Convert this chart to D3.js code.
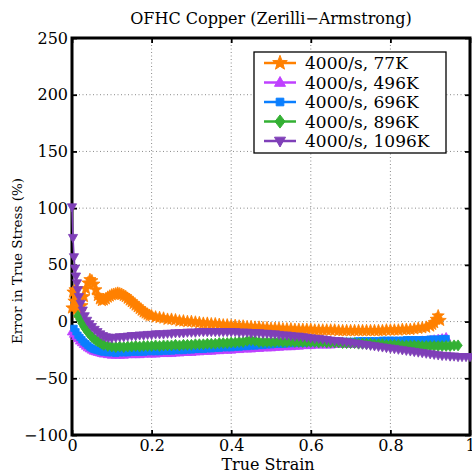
<!DOCTYPE html>
<html>
<head>
<meta charset="utf-8">
<script src="https://cdn.jsdelivr.net/npm/d3@7"></script>
<style>
  html, body { margin: 0; padding: 0; background: #fff; }
  svg { display: block; }
  text { font-family: "DejaVu Serif", serif; fill: #000; }
</style>
</head>
<body>
<svg id="chart" width="472" height="475"></svg>
<script>
// Error in true stress for OFHC copper, Zerilli-Armstrong model, strain rate 4000/s
const chartTitle = "OFHC Copper (Zerilli\u2212Armstrong)";
const xLabel = "True Strain";
const yLabel = "Error in True Stress (%)";

const xTicks = [0, 0.2, 0.4, 0.6, 0.8, 1];
const xTickLabels = ["0", "0.2", "0.4", "0.6", "0.8", "1"];
const yTicks = [-100, -50, 0, 50, 100, 150, 200, 250];
const yTickLabels = ["\u2212100", "\u221250", "0", "50", "100", "150", "200", "250"];

const seriesNames = ["4000/s, 77K", "4000/s, 496K", "4000/s, 696K", "4000/s, 896K", "4000/s, 1096K"];
const seriesColors = ["#ff8000", "#bf40ff", "#0a7fff", "#33b033", "#7f3fb8"];
const seriesMarkers = ["star", "triUp", "square", "diamond", "triDown"];

// [true strain, error %]
const err77K = [
  [0,12],[0.0025,26],[0.005,18],[0.0075,28],[0.01,17],[0.0125,11],[0.015,8],[0.02,9],[0.025,14],
  [0.03,22],[0.035,29],[0.04,34],[0.045,37],[0.05,36],[0.055,33],[0.06,28],[0.065,23],[0.07,20],
  [0.075,18.5],[0.08,19],[0.085,20],[0.09,21.5],[0.095,22.5],[0.10,23.5],[0.105,24],[0.11,24.5],
  [0.115,25],[0.12,24.5],[0.125,24],[0.13,23],[0.135,22],[0.14,20.5],[0.145,19],[0.15,17.5],
  [0.155,16],[0.16,14.5],[0.165,13],[0.17,11.5],[0.175,10],[0.18,8.5],[0.185,7.5],[0.19,6.5],
  [0.195,5.5],[0.20,5],[0.21,4],[0.22,3.5],[0.23,3],[0.24,2],[0.25,2],[0.26,1.5],[0.27,0.5],
  [0.28,0.5],[0.29,0],[0.30,0],[0.31,-0.5],[0.32,-1],[0.33,-1.5],[0.34,-1.5],[0.35,-2],[0.36,-2],
  [0.37,-2.5],[0.38,-3],[0.39,-3],[0.40,-3.5],[0.41,-3.5],[0.42,-4],[0.43,-4],[0.44,-4.5],
  [0.45,-4.5],[0.46,-5],[0.47,-5],[0.48,-5.5],[0.49,-5.5],[0.50,-6],[0.51,-6],[0.52,-6],
  [0.53,-6.5],[0.54,-6.5],[0.55,-6.5],[0.56,-7],[0.57,-7],[0.58,-7],[0.59,-7],[0.60,-7],
  [0.61,-7.5],[0.62,-7.5],[0.63,-7.5],[0.64,-7.5],[0.65,-7.5],[0.66,-7.5],[0.67,-8],[0.68,-8],
  [0.69,-8],[0.70,-8],[0.71,-8],[0.72,-8],[0.73,-8],[0.74,-8],[0.75,-8],[0.76,-8],[0.77,-8],
  [0.78,-8],[0.79,-7.5],[0.80,-7.5],[0.81,-7.5],[0.82,-7.5],[0.83,-7],[0.84,-7],[0.85,-7],
  [0.86,-6.5],[0.87,-6],[0.88,-5.5],[0.89,-5],[0.90,-4],[0.905,-2.5],[0.91,-1],[0.915,2],
  [0.92,5],[0.925,1]
];

const err496K = [
  [0,-9],[0.005,-11],[0.01,-13],[0.015,-15],[0.02,-17],[0.025,-18.5],[0.03,-20],[0.035,-21.5],
  [0.04,-23],[0.045,-24],[0.05,-25],[0.055,-26],[0.06,-26.5],[0.065,-27],[0.07,-27.5],
  [0.075,-28],[0.08,-28.5],[0.09,-29],[0.10,-29.5],[0.11,-29.5],[0.12,-29.5],[0.13,-29.5],
  [0.14,-29],[0.15,-29],[0.16,-29],[0.17,-29],[0.18,-28.5],[0.19,-28.5],[0.20,-28.5],[0.21,-28.5],
  [0.22,-28],[0.23,-28],[0.24,-28],[0.25,-28],[0.26,-27.5],[0.27,-27.5],[0.28,-27],[0.29,-27],
  [0.30,-27],[0.31,-26.5],[0.32,-26.5],[0.33,-26],[0.34,-26],[0.35,-26],[0.36,-25.5],[0.37,-25.5],
  [0.38,-25],[0.39,-25],[0.40,-25],[0.41,-24.5],[0.42,-24.5],[0.43,-24],[0.44,-24],[0.45,-24],
  [0.46,-23.5],[0.47,-23.5],[0.48,-23],[0.49,-23],[0.50,-23],[0.51,-22.5],[0.52,-22.5],[0.53,-22],
  [0.54,-22],[0.55,-22],[0.56,-21.5],[0.57,-21.5],[0.58,-21],[0.59,-21],[0.60,-21],[0.61,-20.5],
  [0.62,-20.5],[0.63,-20.5],[0.64,-20.5],[0.65,-20.5],[0.66,-20],[0.67,-20],[0.68,-20],[0.69,-20],
  [0.70,-20],[0.71,-19.5],[0.72,-19.5],[0.73,-19.5],[0.74,-19.5],[0.75,-19.5],[0.76,-19],
  [0.77,-19],[0.78,-19],[0.79,-19],[0.80,-19],[0.81,-18.5],[0.82,-18.5],[0.83,-18.5],[0.84,-18],
  [0.85,-18],[0.86,-17.5],[0.87,-17.5],[0.88,-17],[0.89,-17],[0.90,-16.5],[0.91,-16],[0.92,-15.5],
  [0.93,-15],[0.94,-14]
];

const err696K = [
  [0.005,-6],[0.01,-9],[0.015,-12],[0.02,-14],[0.025,-16],[0.03,-18],[0.035,-19.5],[0.04,-21],
  [0.045,-22.5],[0.05,-23.5],[0.055,-24.5],[0.06,-25],[0.065,-25.5],[0.07,-26],[0.075,-26.5],
  [0.08,-27],[0.09,-27.5],[0.10,-27.5],[0.11,-28],[0.12,-27.5],[0.13,-27.5],[0.14,-27.5],
  [0.15,-27],[0.16,-27],[0.17,-27],[0.18,-27],[0.19,-26.5],[0.20,-26.5],[0.21,-26.5],[0.22,-26.5],
  [0.23,-26],[0.24,-26],[0.25,-26],[0.26,-25.5],[0.27,-25.5],[0.28,-25.5],[0.29,-25],[0.30,-25],
  [0.31,-24.5],[0.32,-24.5],[0.33,-24.5],[0.34,-24],[0.35,-24],[0.36,-23.5],[0.37,-23.5],
  [0.38,-23],[0.39,-23],[0.40,-23],[0.41,-22.5],[0.42,-22.5],[0.43,-22],[0.44,-22],[0.45,-21.5],
  [0.46,-21.5],[0.47,-21],[0.48,-21],[0.49,-20.5],[0.50,-20.5],[0.51,-20],[0.52,-20],[0.53,-20],
  [0.54,-19.5],[0.55,-19.5],[0.56,-19],[0.57,-19],[0.58,-19],[0.59,-18.5],[0.60,-18.5],
  [0.61,-18.5],[0.62,-18],[0.63,-18],[0.64,-18],[0.65,-17.5],[0.66,-17.5],[0.67,-17.5],
  [0.68,-17.5],[0.69,-17.5],[0.70,-17.5],[0.71,-17.5],[0.72,-17],[0.73,-17],[0.74,-17],
  [0.75,-17],[0.76,-17],[0.77,-17],[0.78,-16.5],[0.79,-16.5],[0.80,-16.5],[0.81,-16.5],
  [0.82,-16.5],[0.83,-16.5],[0.84,-16],[0.85,-16],[0.86,-16],[0.87,-16],[0.88,-16],[0.89,-16],
  [0.90,-15.5],[0.91,-15.5],[0.92,-15.5],[0.93,-15],[0.94,-15]
];

const err896K = [
  [0.015,5],[0.02,2],[0.025,-1.5],[0.03,-4.5],[0.035,-7],[0.04,-9.5],[0.045,-11.5],[0.05,-13.5],
  [0.055,-15],[0.06,-16.5],[0.065,-17.5],[0.07,-18.5],[0.075,-19.5],[0.08,-20.5],[0.09,-21.5],
  [0.10,-22],[0.11,-22.5],[0.12,-22],[0.13,-22.5],[0.14,-22],[0.15,-22],[0.16,-21.5],[0.17,-22],
  [0.18,-21.5],[0.19,-21.5],[0.20,-21.5],[0.21,-21],[0.22,-21.5],[0.23,-21],[0.24,-21],[0.25,-21],
  [0.26,-20.5],[0.27,-21],[0.28,-20.5],[0.29,-20.5],[0.30,-20.5],[0.31,-20],[0.32,-20],[0.33,-20],
  [0.34,-19.5],[0.35,-19.5],[0.36,-19.5],[0.37,-19],[0.38,-19],[0.39,-19],[0.40,-18.5],[0.41,-18.5],
  [0.42,-18],[0.43,-18],[0.44,-17],[0.45,-16.5],[0.46,-17],[0.47,-18],[0.48,-18],[0.49,-18],
  [0.50,-18],[0.51,-18],[0.52,-17.5],[0.53,-18],[0.54,-18],[0.55,-17.5],[0.56,-18],[0.57,-18],
  [0.58,-18],[0.59,-18],[0.60,-18],[0.61,-18],[0.62,-18.5],[0.63,-18],[0.64,-18.5],[0.65,-18.5],
  [0.66,-18.5],[0.67,-18.5],[0.68,-19],[0.69,-19],[0.70,-19],[0.71,-19],[0.72,-19.5],[0.73,-19.5],
  [0.74,-19.5],[0.75,-19.5],[0.76,-20],[0.77,-20],[0.78,-20],[0.79,-20.5],[0.80,-20.5],
  [0.81,-20.5],[0.82,-20.5],[0.83,-21],[0.84,-21],[0.85,-21],[0.86,-21],[0.87,-21],[0.88,-21.5],
  [0.89,-21.5],[0.90,-21.5],[0.91,-21.5],[0.92,-21.5],[0.93,-21.5],[0.94,-21.5],[0.95,-21.5],
  [0.96,-21],[0.97,-21]
];

const err1096K = [
  [0,101],[0.0025,74],[0.005,57],[0.0075,47],[0.01,40],[0.0125,34],[0.015,28],[0.0175,22],
  [0.022,16],[0.027,10],[0.032,5],[0.038,1],[0.044,-2],[0.05,-4.5],[0.057,-7],[0.064,-9],
  [0.071,-11],[0.078,-12.5],[0.085,-13.5],[0.092,-14],[0.10,-14.5],[0.11,-14],[0.12,-13.5],
  [0.13,-13.5],[0.14,-13],[0.15,-12.5],[0.16,-12.5],[0.17,-12],[0.18,-12],[0.19,-11.5],[0.20,-11.5],
  [0.21,-11],[0.22,-11],[0.23,-11],[0.24,-10.5],[0.25,-10.5],[0.26,-10],[0.27,-10],[0.28,-10],
  [0.29,-9.5],[0.30,-9.5],[0.31,-9.5],[0.32,-9],[0.33,-9],[0.34,-9],[0.35,-9],[0.36,-9],[0.37,-9],
  [0.38,-9],[0.39,-9],[0.40,-9],[0.41,-9],[0.42,-9.5],[0.43,-9.5],[0.44,-9.5],[0.45,-10],[0.46,-10],
  [0.47,-10],[0.48,-10.5],[0.49,-10.5],[0.50,-11],[0.51,-11],[0.52,-11.5],[0.53,-12],[0.54,-12],
  [0.55,-12.5],[0.56,-13],[0.57,-13],[0.58,-13.5],[0.59,-14],[0.60,-14.5],[0.61,-15],[0.62,-15],
  [0.63,-15.5],[0.64,-16],[0.65,-16.5],[0.66,-17],[0.67,-17],[0.68,-17.5],[0.69,-18],[0.70,-18.5],
  [0.71,-19],[0.72,-19.5],[0.73,-20],[0.74,-20.5],[0.75,-21],[0.76,-21.5],[0.77,-22],[0.78,-22.5],
  [0.79,-23],[0.80,-23.5],[0.81,-24],[0.82,-24.5],[0.83,-25],[0.84,-25.5],[0.85,-26],[0.86,-26.5],
  [0.87,-27],[0.88,-27.5],[0.89,-28],[0.90,-28.5],[0.91,-29],[0.92,-29.5],[0.93,-30],[0.94,-30],
  [0.95,-30.5],[0.96,-30.5],[0.97,-31],[0.98,-31],[0.99,-31],[1.00,-31]
];

const seriesData = [err77K, err496K, err696K, err896K, err1096K];

// ---- layout ----
const svg = d3.select("#chart");
const plot = { left: 72, right: 470, top: 38, bottom: 435 };

const x = d3.scaleLinear().domain([0, 1]).range([plot.left, plot.right]);
const y = d3.scaleLinear().domain([-100, 250]).range([plot.bottom, plot.top]);

// marker shapes drawn around (0,0)
const markerPath = {
  star: (() => {
    const pts = [];
    for (let i = 0; i < 10; i++) {
      const r = i % 2 === 0 ? 6.4 : 2.7;
      const a = -Math.PI / 2 + i * Math.PI / 5;
      pts.push([r * Math.cos(a), r * Math.sin(a)]);
    }
    return "M" + pts.map(p => p.join(",")).join("L") + "Z";
  })(),
  triUp: "M0,-5L4.6,3.2L-4.6,3.2Z",
  triDown: "M0,5L4.6,-3.2L-4.6,-3.2Z",
  square: "M-3.2,-3.2L3.2,-3.2L3.2,3.2L-3.2,3.2Z",
  diamond: "M0,-5.5L4.2,0L0,5.5L-4.2,0Z"
};

// dotted grid
const grid = svg.append("g").attr("stroke", "#8a8a8a").attr("stroke-width", 1)
  .attr("stroke-dasharray", "1,2.5");
xTicks.filter(t => t > 0 && t < 1).forEach(t => {
  grid.append("line").attr("x1", x(t)).attr("x2", x(t))
    .attr("y1", plot.top).attr("y2", plot.bottom);
});
yTicks.filter(t => t > -100 && t < 250).forEach(t => {
  grid.append("line").attr("y1", y(t)).attr("y2", y(t))
    .attr("x1", plot.left).attr("x2", plot.right);
});

// axes with inward ticks on all four sides
function styleAxis(g) {
  g.select(".domain").remove();
  g.attr("font-family", null);
  g.selectAll(".tick line").attr("stroke", "#000").attr("stroke-width", 1.8);
  g.selectAll(".tick text").attr("fill", "#000");
}
svg.append("g").attr("transform", `translate(0,${plot.bottom})`)
  .call(d3.axisBottom(x).tickValues(xTicks).tickFormat((d, i) => xTickLabels[i]).tickSize(-5).tickPadding(4))
  .call(styleAxis)
  .call(g => g.selectAll(".tick text").attr("font-size", 16).attr("dy", "0.72em"));
svg.append("g").attr("transform", `translate(0,${plot.top})`)
  .call(d3.axisTop(x).tickValues(xTicks).tickFormat("").tickSize(-5))
  .call(styleAxis);
svg.append("g").attr("transform", `translate(${plot.left},0)`)
  .call(d3.axisLeft(y).tickValues(yTicks).tickFormat((d, i) => yTickLabels[i]).tickSize(-5).tickPadding(4))
  .call(styleAxis)
  .call(g => g.selectAll(".tick text").attr("font-size", 16));
svg.append("g").attr("transform", `translate(${plot.right},0)`)
  .call(d3.axisRight(y).tickValues(yTicks).tickFormat("").tickSize(-5))
  .call(styleAxis);

// frame
svg.append("rect").attr("x", plot.left).attr("y", plot.top)
  .attr("width", plot.right - plot.left).attr("height", plot.bottom - plot.top)
  .attr("fill", "none").attr("stroke", "#000").attr("stroke-width", 3);

// series: line then markers
const line = d3.line().x(d => x(d[0])).y(d => y(d[1]));
seriesData.forEach((data, i) => {
  const g = svg.append("g");
  g.append("path").datum(data).attr("d", line)
    .attr("fill", "none").attr("stroke", seriesColors[i]).attr("stroke-width", 1.6);
  g.selectAll("path.mk").data(data).join("path").attr("class", "mk")
    .attr("d", markerPath[seriesMarkers[i]])
    .attr("transform", d => `translate(${x(d[0])},${y(d[1])})`)
    .attr("fill", seriesColors[i]).attr("stroke", seriesColors[i]).attr("stroke-width", 0.8);
});

// legend
const legend = { x: 254, y: 52, w: 192, h: 101, row0: 63, rowStep: 19.5 };
const lg = svg.append("g");
lg.append("rect").attr("x", legend.x).attr("y", legend.y).attr("width", legend.w).attr("height", legend.h)
  .attr("fill", "#fff").attr("stroke", "#000").attr("stroke-width", 1.3);
seriesNames.forEach((name, i) => {
  const cy = legend.row0 + i * legend.rowStep;
  lg.append("line").attr("x1", 264).attr("x2", 296).attr("y1", cy).attr("y2", cy)
    .attr("stroke", seriesColors[i]).attr("stroke-width", 2.5);
  lg.append("path").attr("d", markerPath[seriesMarkers[i]])
    .attr("transform", `translate(280,${cy}) scale(1.2)`)
    .attr("fill", seriesColors[i]).attr("stroke", seriesColors[i]).attr("stroke-width", 0.8);
  lg.append("text").attr("x", 305).attr("y", cy).attr("dy", "0.36em")
    .attr("font-size", 17).text(name);
});

// title and axis labels
svg.append("text").attr("x", (plot.left + plot.right) / 2).attr("y", 24)
  .attr("text-anchor", "middle").attr("font-size", 16).text(chartTitle);
svg.append("text").attr("x", (plot.left + plot.right) / 2 - 3).attr("y", 470)
  .attr("text-anchor", "middle").attr("font-size", 16).text(xLabel);
svg.append("text").attr("transform", `translate(22,261) rotate(-90)`)
  .attr("text-anchor", "middle").attr("font-size", 13.5).text(yLabel);
</script>
</body>
</html>
